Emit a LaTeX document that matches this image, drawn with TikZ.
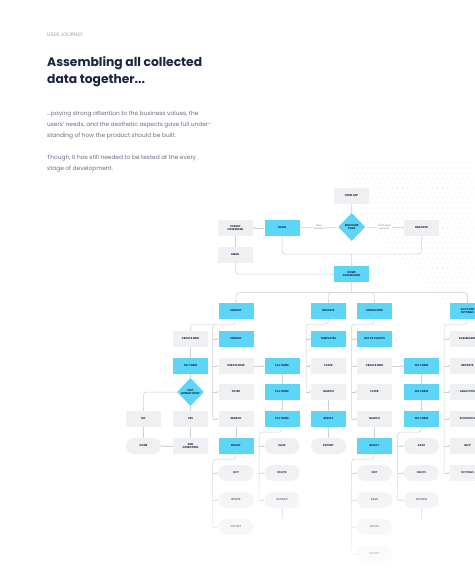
\documentclass[tikz,border=0pt]{standalone}
\usepackage{fontspec}
\setmainfont{Poppins}
\usetikzlibrary{shapes.geometric,arrows.meta,fadings}
\definecolor{flowcyan}{HTML}{5CD5F7}
\definecolor{flowgray}{HTML}{EFF0F2}
\definecolor{flowline}{HTML}{CDD1D6}
\definecolor{inkdark}{HTML}{1B2440}
\definecolor{inkgray}{HTML}{6B7080}
\definecolor{inklight}{HTML}{9AA1AE}
\definecolor{dotgray}{HTML}{E4E6E9}
\newcommand\boxfont{\fontsize{2.7pt}{3.3pt}\selectfont\bfseries}
\tikzfading[name=fadebottom, top color=transparent!100, bottom color=transparent!6]
\begin{document}
\begin{tikzpicture}[x=1pt,y=-1pt,
  box/.style={minimum width=35pt,minimum height=16pt,inner sep=0pt,align=center,font=\boxfont,text=inkdark},
  graybox/.style={box,fill=flowgray},
  cyanbox/.style={box,fill=flowcyan},
  endbox/.style={box,fill=flowgray,rounded corners=8pt},
  choice/.style={diamond,fill=flowcyan,minimum width=27pt,minimum height=28pt,inner sep=0pt,align=center,font=\boxfont,text=inkdark},
  tag/.style={fill=white,inner sep=1pt,align=center,font=\fontsize{2.3pt}{2.8pt}\selectfont,text=inkgray},
  flow/.style={draw=flowline,line width=0.5pt,rounded corners=3pt},
  arr/.style={flow,-{Stealth[length=1.8pt,width=1.8pt]}}]
\useasboundingbox[fill=white] (0,0) rectangle (474,580);

\begin{scope}
\clip (345,163) -- (474,163) -- (474,330) -- (430,290) -- (385,245) -- (352,200) -- cycle;
\foreach \i in {0,...,27}
  \foreach \j in {0,...,34}
    \fill[dotgray] ({345+5*\i+2.5*mod(\j,2)},{163+5*\j}) circle (0.55pt);
\end{scope}

\node[anchor=base west,inner sep=0pt,font=\fontsize{5.1pt}{6pt}\selectfont,text=inklight] (kicker) at (47,37) {USER JOURNEY};
\node[anchor=north west,inner sep=0pt,align=left,font=\fontsize{12.3pt}{17pt}\selectfont\bfseries,text=inkdark] (title) at (47,56) {Assembling all collected\\data together...};
\node[anchor=north west,inner sep=0pt,align=left,font=\fontsize{5.85pt}{11pt}\selectfont,text=inkgray] (intro) at (47,110.5) {...paying strong attention to the business values, the\\users' needs, and the aesthetic aspects gave full under-\\standing of how the product should be built.};
\node[anchor=north west,inner sep=0pt,align=left,font=\fontsize{5.85pt}{11pt}\selectfont,text=inkgray] (outro) at (47,154.5) {Though, it has still needed to be tested at the every\\stage of development.};

\node[graybox] (open) at (351.5,196) {OPEN APP};
\node[choice] (welcome) at (351.7,227) {WELCOME\\PAGE};
\node[cyanbox] (login) at (282,228) {LOGIN};
\node[graybox] (forgot) at (235.5,228) {FORGET\\PASSWORD};
\node[graybox] (email) at (235.5,255) {EMAIL};
\node[graybox] (register) at (421.5,228) {REGISTER};
\node[cyanbox] (home) at (351.5,274) {HOME\\DASHBOARD};

\node[cyanbox] (lib) at (236,311) {LIBRARY};
\node[cyanbox] (rep) at (328.5,311) {REPORTS};
\node[cyanbox] (ops) at (374.5,311) {OPERATIONS};
\node[cyanbox] (acc) at (467.5,311) {ACCOUNT\\SETTINGS};

\node[graybox] (newop) at (190.5,339) {CREATE NEW};
\node[cyanbox] (formop) at (190.5,366) {FILL FORM};
\node[choice] (editop) at (190.5,392) {EDIT\\OPERATIONS?};
\node[graybox] (no) at (143.5,419) {NO};
\node[graybox] (yes) at (190.5,419) {YES};
\node[endbox] (done) at (143.5,446) {DONE};
\node[graybox] (addop) at (190.5,446) {ADD\\OPERATION};

\node[cyanbox] (lib2) at (236,339) {LIBRARY};
\node[graybox] (lnew) at (236,366) {CREATE NEW};
\node[graybox] (lfilter) at (236,392) {FILTER};
\node[graybox] (lsearch) at (236,419) {SEARCH};
\node[cyanbox] (lresult) at (236,446) {RESULT};
\node[endbox] (resedit) at (236,473) {EDIT};
\node[endbox] (resdelete) at (236,500) {DELETE};
\node[endbox] (resexport) at (236,527) {EXPORT};

\node[cyanbox] (form1) at (282,366) {FILL FORM};
\node[cyanbox] (form2) at (282,392) {FILL FORM};
\node[cyanbox] (form3) at (282,419) {FILL FORM};
\node[endbox] (formsave) at (282,446) {SAVE};
\node[endbox] (formdelete) at (282,473) {DELETE};
\node[endbox] (formattach) at (282,500) {ATTACH};

\node[cyanbox] (templates) at (328.5,339) {TEMPLATES};
\node[graybox] (repfilter) at (328.5,366) {FILTER};
\node[graybox] (repsearch) at (328.5,392) {SEARCH};
\node[cyanbox] (represult) at (328.5,419) {RESULT};
\node[endbox] (repexport) at (328.5,446) {EXPORT};

\node[cyanbox] (clients) at (374.5,339) {LIST OF CLIENTS};
\node[graybox] (opsnew) at (374.5,366) {CREATE NEW};
\node[graybox] (opsfilter) at (374.5,392) {FILTER};
\node[graybox] (opssearch) at (374.5,419) {SEARCH};
\node[cyanbox] (opsresult) at (374.5,446) {RESULT};
\node[endbox] (opsedit) at (374.5,473) {EDIT};
\node[endbox] (opssave) at (374.5,500) {SAVE};
\node[endbox] (opsdelete) at (374.5,527) {DELETE};
\node[endbox] (opsexport) at (374.5,554) {EXPORT};

\node[cyanbox] (cform1) at (421.5,366) {FILL FORM};
\node[cyanbox] (cform2) at (421.5,392) {FILL FORM};
\node[cyanbox] (cform3) at (421.5,419) {FILL FORM};
\node[endbox] (cformsave) at (421.5,446) {SAVE};
\node[endbox] (cformdelete) at (421.5,473) {DELETE};
\node[endbox] (cformattach) at (421.5,500) {ATTACH};

\node[graybox] (accdash) at (467.5,339) {DASHBOARD};
\node[graybox] (accreports) at (467.5,366) {REPORTS};
\node[graybox] (accanalytics) at (467.5,392) {ANALYTICS};
\node[graybox] (accstats) at (467.5,419) {STATISTICS};
\node[graybox] (acchelp) at (467.5,446) {HELP};
\node[graybox] (accsettings) at (467.5,473) {SETTINGS};

\coordinate (merge) at (351.7,254);
\coordinate (bus) at (351.7,292.7);
\coordinate (libspine) at (212.7,324);
\coordinate (resspine) at (212.7,459);
\coordinate (formspine) at (259,432);
\coordinate (formmore) at (282,519);
\coordinate (repspine) at (306,324);
\coordinate (opsspine) at (351.7,324);
\coordinate (opsresspine) at (351.7,459);
\coordinate (cformspine) at (397.7,432);
\coordinate (cformmore) at (421.5,519);
\coordinate (accspine) at (444,324);

\draw[arr] (open) -- (welcome);
\draw[arr] (welcome) -- node[tag] {Have\\account} (login);
\draw[arr] (welcome) -- node[tag] {Don't have\\account} (register);
\draw[arr] (login) -- (forgot);
\draw[arr] (forgot) -- (email);
\draw[arr] (email.south) |- (home.west);
\draw[flow] (login.south) |- (merge) -| (register.south);
\draw[arr] (merge) -- (home);
\draw[flow] (home) -- (bus);
\foreach \n in {lib,rep,ops,acc}
  \draw[arr] (bus) -| (\n);

\draw[arr] (newop) -- (formop);
\draw[arr] (formop) -- (editop);
\draw[arr] (editop.west) -| (no);
\draw[arr] (editop) -- (yes);
\draw[arr] (no) -- (done);
\draw[arr] (yes) -- (addop);
\draw[arr] (addop) -- (done);

\draw[flow] (lib.south) |- (libspine) -- (libspine |- lsearch.west);
\draw[arr] (libspine) -| (newop);
\foreach \n in {lib2,lnew,lfilter,lsearch}
  \draw[arr] (libspine |- \n.west) -- (\n.west);
\draw[arr] (lsearch) -- (lresult);
\draw[flow] (lresult.south) |- (resspine) -- (resspine |- resexport.west);
\foreach \n in {resedit,resdelete,resexport}
  \draw[arr] (resspine |- \n.west) -- (\n.west);

\draw[arr] (lnew) -- (form1);
\draw[arr] (form1) -- (form2);
\draw[arr] (form2) -- (form3);
\draw[flow] (form3.south) |- (formspine) -- (formspine |- formattach.west);
\foreach \n in {formsave,formdelete,formattach}
  \draw[arr] (formspine |- \n.west) -- (\n.west);
\draw[arr] (formattach) -- (formmore);

\draw[flow] (rep.south) |- (repspine) -- (repspine |- repsearch.west);
\foreach \n in {templates,repfilter,repsearch}
  \draw[arr] (repspine |- \n.west) -- (\n.west);
\draw[arr] (repsearch) -- (represult);
\draw[arr] (represult) -- (repexport);

\draw[flow] (ops.south) |- (opsspine) -- (opsspine |- opssearch.west);
\foreach \n in {clients,opsnew,opsfilter,opssearch}
  \draw[arr] (opsspine |- \n.west) -- (\n.west);
\draw[arr] (opssearch) -- (opsresult);
\draw[flow] (opsresult.south) |- (opsresspine) -- (opsresspine |- opsexport.west);
\foreach \n in {opsedit,opssave,opsdelete,opsexport}
  \draw[arr] (opsresspine |- \n.west) -- (\n.west);

\draw[arr] (opsnew) -- (cform1);
\draw[arr] (cform1) -- (cform2);
\draw[arr] (cform2) -- (cform3);
\draw[flow] (cform3.south) |- (cformspine) -- (cformspine |- cformattach.west);
\foreach \n in {cformsave,cformdelete,cformattach}
  \draw[arr] (cformspine |- \n.west) -- (\n.west);
\draw[arr] (cformattach) -- (cformmore);

\draw[flow] (acc.south) |- (accspine) -- (accspine |- accsettings.west);
\foreach \n in {accdash,accreports,accanalytics,accstats,acchelp,accsettings}
  \draw[arr] (accspine |- \n.west) -- (\n.west);

\fill[white,path fading=fadebottom] (0,452) rectangle (474,580);
\end{tikzpicture}
\end{document}
